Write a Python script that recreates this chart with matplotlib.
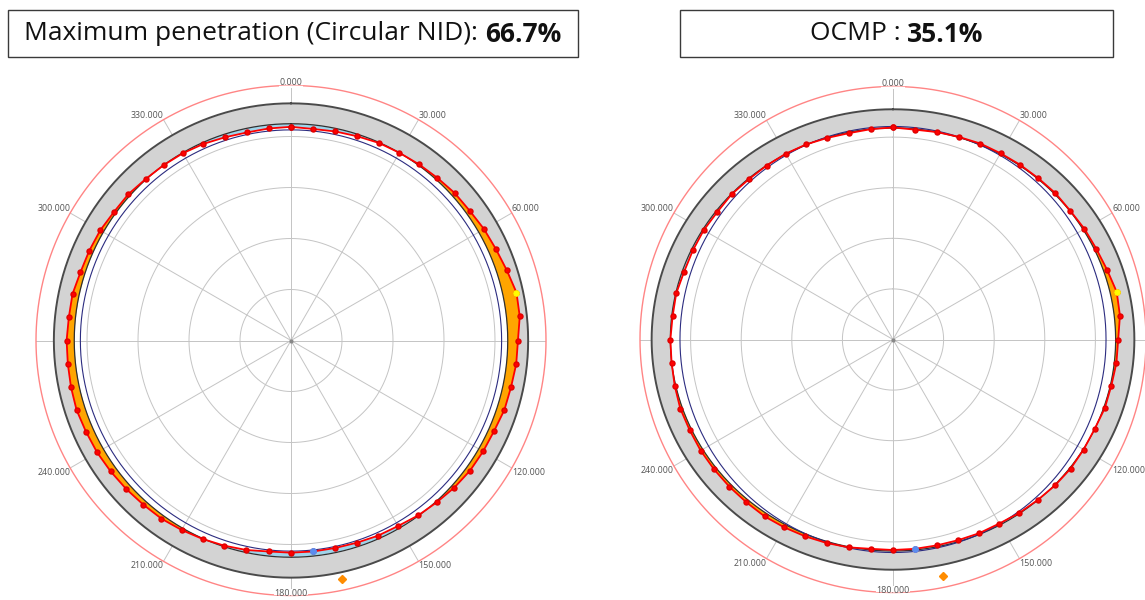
import numpy as np
import matplotlib
matplotlib.use("Agg")
import matplotlib.pyplot as plt
from matplotlib.patches import Rectangle
from matplotlib.transforms import Bbox, TransformedBbox

plt.rcParams['font.family'] = ['Open Sans', 'DejaVu Sans']

W, H = 1145, 600

# measured bore profile, one point every 6 deg (radial chart units)
angles = list(range(0, 360, 6))
profile = [4.19, 4.17, 4.19, 4.21, 4.24, 4.25, 4.27, 4.29, 4.32, 4.33,
           4.37, 4.40, 4.45, 4.52, 4.51, 4.45, 4.44, 4.41, 4.40, 4.36,
           4.35, 4.34, 4.31, 4.27, 4.24, 4.20, 4.19, 4.17, 4.16, 4.16,
           4.16, 4.16, 4.20, 4.23, 4.26, 4.29, 4.32, 4.33, 4.35, 4.37,
           4.39, 4.40, 4.42, 4.41, 4.40, 4.40, 4.38, 4.38, 4.34, 4.33,
           4.32, 4.29, 4.29, 4.26, 4.25, 4.24, 4.22, 4.19, 4.17, 4.18]

max_pen_angle = 78        # yellow point
min_point_angle = 174     # blue point
diamond_angle, diamond_r = 168, 4.78

# left panel: circular NID
nid_radius = 4.25
od_left = 4.65
navy_left = 4.13

# right panel: OCMP reference (oval) + wall
ocmp_a, ocmp_b = 4.40, 4.18
wall = 0.37
navy_right = 4.21

tick_angles = [0, 30, 60, 120, 150, 180, 210, 240, 300, 330]
titles = [("Maximum penetration (Circular NID): ", "66.7%"),
          ("OCMP : ", "35.1%")]


def oval(th, a, b):
    return a * b / np.sqrt((b * np.sin(th)) ** 2 + (a * np.cos(th)) ** 2)


fig = plt.figure(figsize=(W / 100, H / 100), dpi=100)

th = np.radians(np.array(angles + [360]))
prof = np.array(profile + [profile[0]])
tt = np.linspace(0, 2 * np.pi, 721)


def panel(rect, ref_fn, od_fn, navy_r, crop):
    ax = fig.add_axes(rect, projection='polar')
    ax.set_theta_zero_location('N')
    ax.set_theta_direction(-1)
    ax.set_ylim(0, 5)
    ax.grid(False)
    ax.set_xticks([])
    ax.set_yticks([])
    ax.spines['polar'].set_visible(False)
    ax.patch.set_alpha(0)

    # grid
    for r in [1, 2, 3, 4]:
        ax.plot(tt, np.full_like(tt, r), color='#c4c4c4', lw=0.7, zorder=1)
    for a in range(0, 360, 30):
        ax.plot([np.radians(a)] * 2, [0, 5], color='#c4c4c4', lw=0.7, zorder=1)
    ax.plot([0], [0], 'o', color='#888888', ms=2, zorder=1)
    ax.plot(tt, np.full_like(tt, 5), color='#ff8585', lw=1.0, zorder=1,
            clip_on=False)

    ref = ref_fn(th)
    ref_d = ref_fn(tt)
    od_d = od_fn(tt)
    # wall band
    ax.fill_between(tt, ref_d, od_d, color='#d3d3d3', lw=0, zorder=2)
    ax.fill_between(th, ref, prof, where=prof >= ref, interpolate=True,
                    color='#ffa500', lw=0, zorder=3)
    ax.fill_between(th, prof, ref, where=prof <= ref, interpolate=True,
                    color='#9fd4ea', lw=0, zorder=3)
    ax.plot(tt, od_d, color='#4a4a4a', lw=1.4, zorder=4)
    ax.plot(tt, ref_d, color='#303030', lw=0.9, zorder=4)
    ax.plot(tt, np.full_like(tt, navy_r), color='#2c2c80', lw=0.8, zorder=4)

    ax.plot(th, prof, color='#ff0000', lw=1.3, marker='o', ms=3.6,
            mec='#e00000', mfc='#ff0000', zorder=5)
    i = angles.index(max_pen_angle)
    ax.plot(np.radians(max_pen_angle), profile[i], 'o', color='#ffff00',
            ms=3.8, zorder=6)
    i = angles.index(min_point_angle)
    ax.plot(np.radians(min_point_angle), profile[i], 'o', color='#5b8def',
            ms=4.0, zorder=6)
    ax.plot(np.radians(diamond_angle), diamond_r, 'D', color='#ff8c00',
            ms=4.0, zorder=6, clip_on=False)

    clip = TransformedBbox(Bbox([[crop[0] / W, 0], [crop[1] / W, 1]]),
                           fig.transFigure)
    for a in tick_angles:
        s = np.sin(np.radians(a))
        c = np.cos(np.radians(a))
        if abs(s) < 0.01:
            ha, va = 'center', 'center'
            r = 5.06 if c > 0 else 4.97
        else:
            ha = 'left' if s > 0 else 'right'
            va = 'bottom' if c > 0 else 'top'
            r = 5.0
        t = ax.text(np.radians(a), r, f"{a:.3f}", ha=ha, va=va,
                    fontsize=6.4, color='#555555', zorder=7,
                    bbox=dict(fc='white', ec='none', pad=0.6)
                    if ha == 'center' else None)
        t.set_clip_on(True)
        t.set_clip_box(clip)
    return ax


panel([36 / W, 4.5 / H, 510 / W, 510 / H],
      lambda t: np.full_like(t, nid_radius),
      lambda t: np.full_like(t, od_left), navy_left, (35, 548))
panel([640 / W, 7.5 / H, 506 / W, 506 / H],
      lambda t: oval(t, ocmp_a, ocmp_b),
      lambda t: oval(t, ocmp_a, ocmp_b) + wall, navy_right, (638, 1145))

# boxed titles
renderer = fig.canvas.get_renderer()
for (x0, x1), (normal, bold) in zip([(8, 578), (680, 1113)], titles):
    fig.add_artist(Rectangle((x0 / W, 1 - 57 / H), (x1 - x0) / W, 47 / H,
                             transform=fig.transFigure, fill=False,
                             ec='#3a3a3a', lw=1.0))
    yc = 1 - 34 / H
    t1 = fig.text(0, yc, normal, fontsize=19, va='center', color='#111111')
    t2 = fig.text(0, yc, bold, fontsize=19, va='center', weight='bold',
                  color='#111111')
    w1 = t1.get_window_extent(renderer).width
    w2 = t2.get_window_extent(renderer).width
    start = (x0 + x1) / 2 - (w1 + w2) / 2
    t1.set_x(start / W)
    t2.set_x((start + w1) / W)

fig.savefig('out.png', dpi=100)
